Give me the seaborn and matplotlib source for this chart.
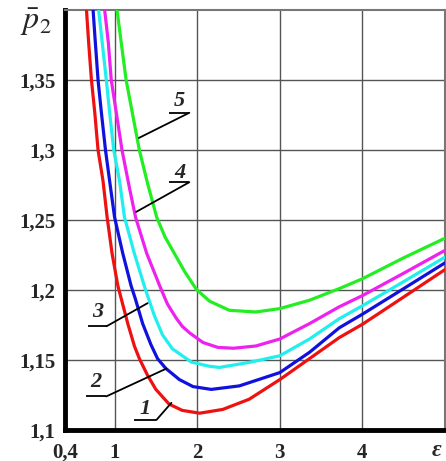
import matplotlib
matplotlib.use("Agg")
import matplotlib.pyplot as plt
import seaborn as sns
import pandas as pd

# ---- data ----
eps_1 = [0.66, 0.686, 0.72, 0.76, 0.80, 0.86, 0.91, 0.97, 1.04, 1.08, 1.16, 1.24, 1.30, 1.40, 1.50,
         1.66, 1.82, 2.03, 2.31, 2.63, 3.0, 3.36, 3.72, 4.0, 4.5, 5.0]
p2_1 = [1.40, 1.377, 1.35, 1.327, 1.30, 1.278, 1.252, 1.226, 1.203, 1.194, 1.176, 1.160, 1.151, 1.139, 1.129,
        1.1185, 1.114, 1.112, 1.1147, 1.122, 1.136, 1.151, 1.166, 1.1755, 1.195, 1.2146]

eps_2 = [0.74, 0.767, 0.80, 0.84, 0.89, 0.94, 1.0, 1.10, 1.20, 1.25, 1.34, 1.44, 1.52, 1.62, 1.785,
         1.95, 2.17, 2.51, 3.0, 3.36, 3.72, 4.0, 4.5, 5.0]
p2_2 = [1.40, 1.377, 1.35, 1.327, 1.30, 1.278, 1.252, 1.226, 1.203, 1.194, 1.176, 1.161, 1.151, 1.144, 1.136,
        1.131, 1.129, 1.1315, 1.141, 1.1555, 1.173, 1.1827, 1.201, 1.2194]

eps_3 = [0.807, 0.85, 0.90, 0.94, 0.99, 1.06, 1.12, 1.24, 1.37, 1.48, 1.58, 1.70, 1.93, 2.15, 2.27,
         2.63, 3.0, 3.36, 3.72, 4.0, 4.5, 5.0]
p2_3 = [1.40, 1.377, 1.35, 1.327, 1.30, 1.278, 1.252, 1.226, 1.201, 1.182, 1.168, 1.158, 1.1485, 1.1455, 1.1447,
        1.1483, 1.153, 1.165, 1.1795, 1.1887, 1.206, 1.2235]

eps_4 = [0.88, 0.924, 0.96, 1.02, 1.09, 1.18, 1.254, 1.39, 1.56, 1.64, 1.745, 1.82, 1.906, 2.07, 2.25,
         2.44, 2.71, 3.0, 3.36, 3.72, 4.0, 4.5, 5.0]
p2_4 = [1.40, 1.377, 1.35, 1.327, 1.30, 1.273, 1.252, 1.226, 1.201, 1.190, 1.180, 1.174, 1.1695, 1.1625, 1.159,
        1.1584, 1.160, 1.165, 1.176, 1.188, 1.196, 1.212, 1.2283]

eps_5 = [1.03, 1.08, 1.14, 1.22, 1.30, 1.40, 1.51, 1.61, 1.725, 1.85, 1.99, 2.15, 2.39, 2.71, 3.0,
         3.36, 3.72, 4.0, 4.5, 5.0]
p2_5 = [1.40, 1.377, 1.35, 1.325, 1.30, 1.276, 1.252, 1.238, 1.226, 1.213, 1.2005, 1.192, 1.1855, 1.1843, 1.1867,
        1.1927, 1.201, 1.208, 1.223, 1.237]

curve_names = ["1", "2", "3", "4", "5"]
curve_colors = ["#ee1111", "#1111dd", "#22eeee", "#ee22ee", "#22ee22"]

x_ticks = [0.4, 1, 2, 3, 4]
x_tick_labels = ["0,4", "1", "2", "3", "4"]
y_ticks = [1.1, 1.15, 1.2, 1.25, 1.3, 1.35]
y_tick_labels = ["1,1", "1,15", "1,2", "1,25", "1,3", "1,35"]

rows = []
for name, xs, ys in zip(curve_names, [eps_1, eps_2, eps_3, eps_4, eps_5],
                        [p2_1, p2_2, p2_3, p2_4, p2_5]):
    for xv, yv in zip(xs, ys):
        rows.append({"curve": name, "eps": xv, "p2": yv})
df = pd.DataFrame(rows)

sns.set_style("white")
plt.rcParams["font.family"] = ["Liberation Serif", "DejaVu Serif"]
plt.rcParams["mathtext.fontset"] = "stix"

fig = plt.figure(figsize=(4.46, 4.61), dpi=100)
ax = fig.add_axes([65 / 446, 1 - 430 / 461, (445 - 65) / 446, (430 - 10) / 461])

# grid
for xv in [1, 2, 3, 4]:
    ax.axvline(xv, color="#555555", lw=1.0, zorder=1)
for yv in [1.15, 1.2, 1.25, 1.3, 1.35]:
    ax.axhline(yv, color="#555555", lw=1.0, zorder=1)

sns.lineplot(data=df, x="eps", y="p2", hue="curve", palette=dict(zip(curve_names, curve_colors)),
             sort=False, estimator=None, legend=False, lw=2.3, ax=ax, zorder=3)
for line in ax.get_lines():
    line.set_solid_joinstyle("round")

ax.set_xlim(0.4, 5.0)
ax.set_ylim(1.1, 1.4)
ax.set_xlabel("")
ax.set_ylabel("")
ax.set_xticks(x_ticks)
ax.set_xticklabels(x_tick_labels, fontsize=15, fontweight="bold")
ax.set_yticks(y_ticks)
ax.set_yticklabels(y_tick_labels, fontsize=15, fontweight="bold")
ax.tick_params(axis="both", length=0)
ax.tick_params(axis="x", pad=9)
ax.tick_params(axis="y", pad=7)

for s in ["left", "bottom"]:
    ax.spines[s].set_linewidth(3.5)
    ax.spines[s].set_color("black")
for s in ["top", "right"]:
    ax.spines[s].set_linewidth(1.5)
    ax.spines[s].set_color("#777777")

# epsilon axis label and p2 label
fig.text(437 / 446, 1 - 450 / 461, "ε", ha="center", va="center", fontsize=17,
         fontstyle="italic", fontweight="bold")
fig.text(36 / 446, 1 - 22 / 461, r"$\bar{p}_2$", ha="center", va="center", fontsize=23)

# curve labels with leader lines
labels = [
    ("5", (1.785, 1.335), (1.66, 1.905, 1.3266), (1.294, 1.3086)),
    ("4", (1.785, 1.2835), (1.66, 1.905, 1.277), (1.262, 1.2558)),
    ("3", (0.795, 1.1842), (0.674, 0.903, 1.1741), (1.40, 1.1906)),
    ("2", (0.77, 1.134), (0.66, 0.90, 1.124), (1.628, 1.1439)),
    ("1", (1.37, 1.1147), (1.24, 1.507, 1.1072), (1.688, 1.1194)),
]
for txt, (tx, ty), (u0, u1, uy), (cx, cy) in labels:
    ax.text(tx, ty, txt, fontsize=16, fontweight="bold", fontstyle="italic",
            ha="center", va="center", zorder=5)
    ax.plot([u0, u1], [uy, uy], color="black", lw=1.3, zorder=4, solid_capstyle="butt")
    ax.plot([u1, cx], [uy, cy], color="black", lw=1.3, zorder=4)

fig.savefig("out.png", dpi=100)
